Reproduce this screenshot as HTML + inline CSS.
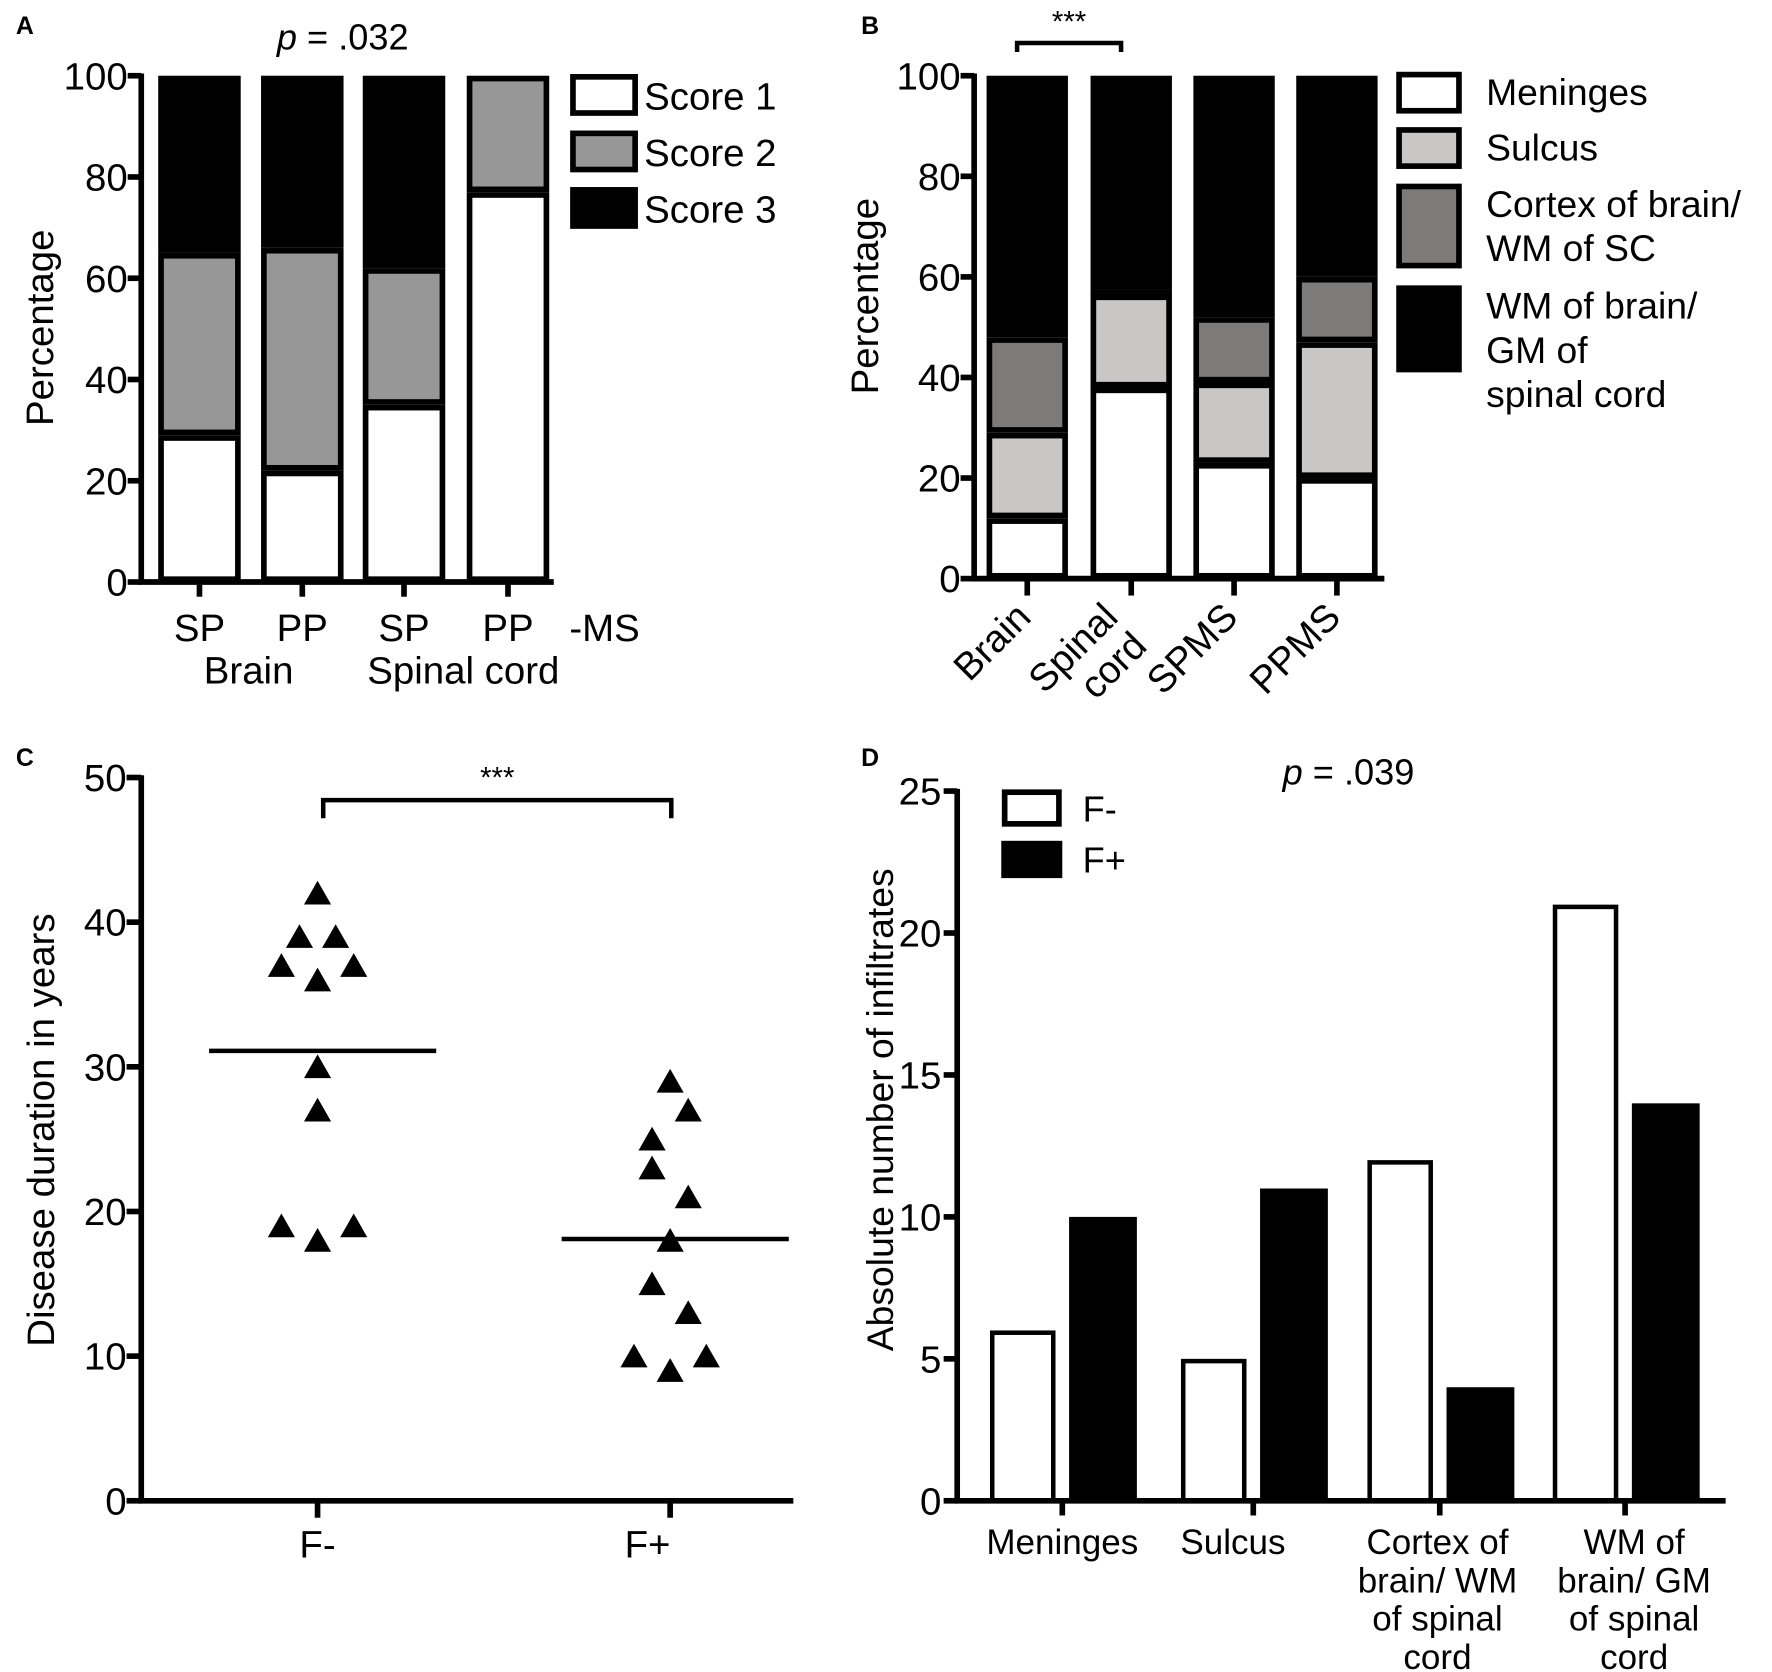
<!DOCTYPE html>
<html><head><meta charset="utf-8"><style>
html,body{margin:0;padding:0;background:#fff}
svg{display:block}
text{font-family:"Liberation Sans",Arial,sans-serif;fill:#000}
</style></head><body>
<svg id="fig" width="1772" height="1672" viewBox="0 0 1568 1479.5" xmlns="http://www.w3.org/2000/svg">
<g id="pA"></g>
<g id="pB"></g>
<g id="pC"></g>
<g id="pD"></g>
</svg>
<script>
// Panel A data
const aCats = ["SP","PP","SP","PP"];
const aScore1 = [29,22,35,77];
const aScore2 = [36,44,27,23];
const aScore3 = [35,34,38,0];
const aTicks = [0,20,40,60,80,100];
// Panel B data
const bCats = ["Brain","Spinal cord","SPMS","PPMS"];
const bMeninges = [12,38,23,20];
const bSulcus = [17,18.5,16,27];
const bCortex = [19,1,13,13];
const bWM = [52,42.5,48,40];
const bTicks = [0,20,40,60,80,100];
// Panel C data
const cFneg = [42,39,39,37,37,36,30,27,19,19,18];
const cFnegX = [0,-1,1,-2,2,0,0,0,-2,2,0];
const cFpos = [29,27,25,23,21,18,15,13,10,10,9];
const cFposX = [0,1,-1,-1,1,0,-1,1,-2,2,0];
const cMeans = [31.1,18.1];
const cTicks = [0,10,20,30,40,50];
// Panel D data
const dCats = ["Meninges","Sulcus","Cortex of brain/ WM of spinal cord","WM of brain/ GM of spinal cord"];
const dFneg = [6,5,12,21];
const dFpos = [10,11,4,14];
const dTicks = [0,5,10,15,20,25];

const NS="http://www.w3.org/2000/svg";
function mk(parent,tag,attrs,txt){const e=document.createElementNS(NS,tag);for(const k in attrs)e.setAttribute(k,attrs[k]);if(txt!==undefined)e.textContent=txt;parent.appendChild(e);return e;}

// ---------- Panel A ----------
(function(){
const g=document.getElementById('pA');
const y=v=>515-v*4.48;
const bx=[140,231,321,413], bw=73;
let t=mk(g,'text',{x:14,y:30,'font-size':22,'font-weight':'bold'},'A');


t=mk(g,'text',{x:245,y:44,'font-size':32},'');


mk(t,'tspan',{'font-style':'italic'},'p');mk(t,'tspan',{},' = .032');
for(let i=0;i<aCats.length;i++){
 const segs=[[0,aScore1[i],'#fff'],[aScore1[i],aScore2[i],'#979797'],[aScore1[i]+aScore2[i],aScore3[i],'#000']];
 segs.forEach((s,j)=>{ if(s[1]<=0)return;
  const r=mk(g,'rect',{x:bx[i]+2.5,y:y(s[0]+s[1])+2.5,width:bw-5,height:s[1]*4.48-5,fill:s[2],stroke:'#000','stroke-width':5});
  
  
 });
 const tk=mk(g,'line',{x1:bx[i]+bw/2,x2:bx[i]+bw/2,y1:515,y2:528,stroke:'#000','stroke-width':5});
 
 
 const l=mk(g,'text',{x:bx[i]+bw/2,y:567,'font-size':34,'text-anchor':'middle'},aCats[i]);
 
 
}
aTicks.forEach(v=>{mk(g,'line',{x1:113,x2:125,y1:y(v),y2:y(v),stroke:'#000','stroke-width':5});
 const l=mk(g,'text',{x:113,y:y(v)+12,'font-size':34,'text-anchor':'end'},v);
 
 });
let ax=mk(g,'path',{d:'M125 65 V515 H490',stroke:'#000','stroke-width':5,fill:'none'});


t=mk(g,'text',{x:535,y:567,'font-size':34,'text-anchor':'middle'},'-MS');


t=mk(g,'text',{x:220,y:605,'font-size':34,'text-anchor':'middle'},'Brain');


t=mk(g,'text',{x:410,y:605,'font-size':34,'text-anchor':'middle'},'Spinal cord');


t=mk(g,'text',{x:0,y:0,'font-size':34,'text-anchor':'middle',transform:'translate(47,290) rotate(-90)'},'Percentage');


[['Score 1','#fff',66],['Score 2','#979797',116],['Score 3','#000',166]].forEach(d=>{
 const r=mk(g,'rect',{x:507,y:d[2]+2,width:55,height:32,fill:d[1],stroke:'#000','stroke-width':5});
 
 
 const l=mk(g,'text',{x:570,y:d[2]+31,'font-size':34},d[0]);
 
 
});
})();

// ---------- Panel B ----------
(function(){
const g=document.getElementById('pB');
const y=v=>512-v*4.45;
const bx=[873,965,1056,1147], bw=72;
let t=mk(g,'text',{x:762,y:30,'font-size':22,'font-weight':'bold'},'B');


for(let i=0;i<bCats.length;i++){
 const vals=[bMeninges[i],bSulcus[i],bCortex[i],bWM[i]], cols=['#fff','#c9c7c6','#7c7b7a','#000'];
 let base=0;
 vals.forEach((v,j)=>{
  const r=mk(g,'rect',{x:bx[i]+2.5,y:y(base+v)+2.5,width:bw-5,height:Math.max(v*4.45-5,0.5),fill:cols[j],stroke:'#000','stroke-width':5});
  
  
  base+=v;
 });
 const cx=bx[i]+bw/2;
 mk(g,'line',{x1:cx,x2:cx,y1:512,y2:527,stroke:'#000','stroke-width':5});
}
const lbl=[['Brain'],['Spinal','cord'],['SPMS'],['PPMS']];
lbl.forEach((ls,i)=>{const cx=bx[i]+bw/2;
 const tx = ls.length>1 ? cx-10 : cx+5;
 const l=mk(g,'text',{x:0,y:0,'font-size':34,'text-anchor':'end',transform:`translate(${tx},${548}) rotate(-45)`});
 
 
 ls.forEach((s,k)=>mk(l,'tspan',{x:0,dy:k?36:0},s));
});
bTicks.forEach(v=>{mk(g,'line',{x1:850,x2:862,y1:y(v),y2:y(v),stroke:'#000','stroke-width':5});
 const l=mk(g,'text',{x:850,y:y(v)+12,'font-size':34,'text-anchor':'end'},v);
 
 });
let ax=mk(g,'path',{d:'M862 65 V512 H1225',stroke:'#000','stroke-width':5,fill:'none'});


let br=mk(g,'path',{d:'M900 46 V38 H992 V46',stroke:'#000','stroke-width':4,fill:'none'});


t=mk(g,'text',{x:946,y:28,'font-size':26,'text-anchor':'middle'},'***');


t=mk(g,'text',{x:0,y:0,'font-size':34,'text-anchor':'middle',transform:'translate(777,262) rotate(-90)'},'Percentage');


[[66,32,'#fff',['Meninges']],[115,32,'#c9c7c6',['Sulcus']],[165,70,'#7c7b7a',['Cortex of brain/','WM of SC']],[255,72,'#000',['WM of brain/','GM of','spinal cord']]].forEach(d=>{
 const r=mk(g,'rect',{x:1238,y:d[0],width:53,height:d[1],fill:d[2],stroke:'#000','stroke-width':5});
 
 
 d[3].forEach((s,k)=>{const l=mk(g,'text',{x:1315,y:d[0]+27+k*39,'font-size':33},s);
  
  });
});
})();

// ---------- Panel C ----------
(function(){
const g=document.getElementById('pC');
const y=v=>1328-v*12.8;
const gx=[281,593], jit=16;
let t=mk(g,'text',{x:14,y:678,'font-size':22,'font-weight':'bold'},'C');


cTicks.forEach(v=>{mk(g,'line',{x1:112,x2:125,y1:y(v),y2:y(v),stroke:'#000','stroke-width':5});
 const l=mk(g,'text',{x:112,y:y(v)+12,'font-size':34,'text-anchor':'end'},v);
 
 });
let ax=mk(g,'path',{d:'M125 686 V1328 H702',stroke:'#000','stroke-width':5,fill:'none'});


gx.forEach(x=>mk(g,'line',{x1:x,x2:x,y1:1328,y2:1343,stroke:'#000','stroke-width':5}));
t=mk(g,'text',{x:281,y:1378,'font-size':34,'text-anchor':'middle'},'F-');


t=mk(g,'text',{x:573,y:1378,'font-size':34,'text-anchor':'middle'},'F+');


[[cFneg,cFnegX,0],[cFpos,cFposX,1]].forEach(s=>{
 s[0].forEach((v,i)=>{const cx=gx[s[2]]+s[1][i]*jit, cy=y(v);
  const p=mk(g,'polygon',{points:`${cx},${cy-11} ${cx-12},${cy+10} ${cx+12},${cy+10}`,fill:'#000'});
  
  
 });
});
cMeans.forEach((m,i)=>{const l=mk(g,'line',{x1:gx[i]-96,x2:gx[i]+105,y1:y(m),y2:y(m),stroke:'#000','stroke-width':4});
 
 });
let br=mk(g,'path',{d:'M286 724 V708 H594 V724',stroke:'#000','stroke-width':4,fill:'none'});


t=mk(g,'text',{x:440,y:697,'font-size':26,'text-anchor':'middle'},'***');


t=mk(g,'text',{x:0,y:0,'font-size':34,'text-anchor':'middle',transform:'translate(48,1000) rotate(-90)'},'Disease duration in years');


})();

// ---------- Panel D ----------
(function(){
const g=document.getElementById('pD');
const y=v=>1328-v*25.12;
const gx0=[876,1045,1210,1374], bw=58, gap=70;
let t=mk(g,'text',{x:762,y:678,'font-size':22,'font-weight':'bold'},'D');


t=mk(g,'text',{x:1135,y:694,'font-size':32},'');


mk(t,'tspan',{'font-style':'italic'},'p');mk(t,'tspan',{},' = .039');
dTicks.forEach(v=>{mk(g,'line',{x1:835,x2:847,y1:y(v),y2:y(v),stroke:'#000','stroke-width':5});
 const l=mk(g,'text',{x:833,y:y(v)+12,'font-size':34,'text-anchor':'end'},v);
 
 });
for(let i=0;i<dCats.length;i++){
 let r=mk(g,'rect',{x:gx0[i]+2,y:y(dFneg[i])+2,width:bw-4,height:dFneg[i]*25.12-2,fill:'#fff',stroke:'#000','stroke-width':4});
 
 
 r=mk(g,'rect',{x:gx0[i]+gap,y:y(dFpos[i]),width:bw+2,height:dFpos[i]*25.12,fill:'#000'});
 
 
 const cx=gx0[i]+(gap+bw)/2;
 mk(g,'line',{x1:cx,x2:cx,y1:1328,y2:1341,stroke:'#000','stroke-width':5});
}
let ax=mk(g,'path',{d:'M847 698 V1328 H1527',stroke:'#000','stroke-width':5,fill:'none'});


const lines=[['Meninges'],['Sulcus'],['Cortex of','brain/ WM','of spinal','cord'],['WM of','brain/ GM','of spinal','cord']];
const lx=[940,1091,1272,1446];
lines.forEach((ls,i)=>ls.forEach((s,k)=>{const l=mk(g,'text',{x:lx[i],y:1375+k*34,'font-size':31,'text-anchor':'middle'},s);
 
 }));
t=mk(g,'text',{x:0,y:0,'font-size':33,'text-anchor':'middle',transform:'translate(790,982) rotate(-90)'},'Absolute number of infiltrates');


let r=mk(g,'rect',{x:889,y:701,width:48,height:28,fill:'#fff',stroke:'#000','stroke-width':5});


r=mk(g,'rect',{x:886,y:744,width:54,height:33,fill:'#000'});


t=mk(g,'text',{x:958,y:727,'font-size':32},'F-');


t=mk(g,'text',{x:958,y:772,'font-size':32},'F+');


})();
</script>
</body></html>
